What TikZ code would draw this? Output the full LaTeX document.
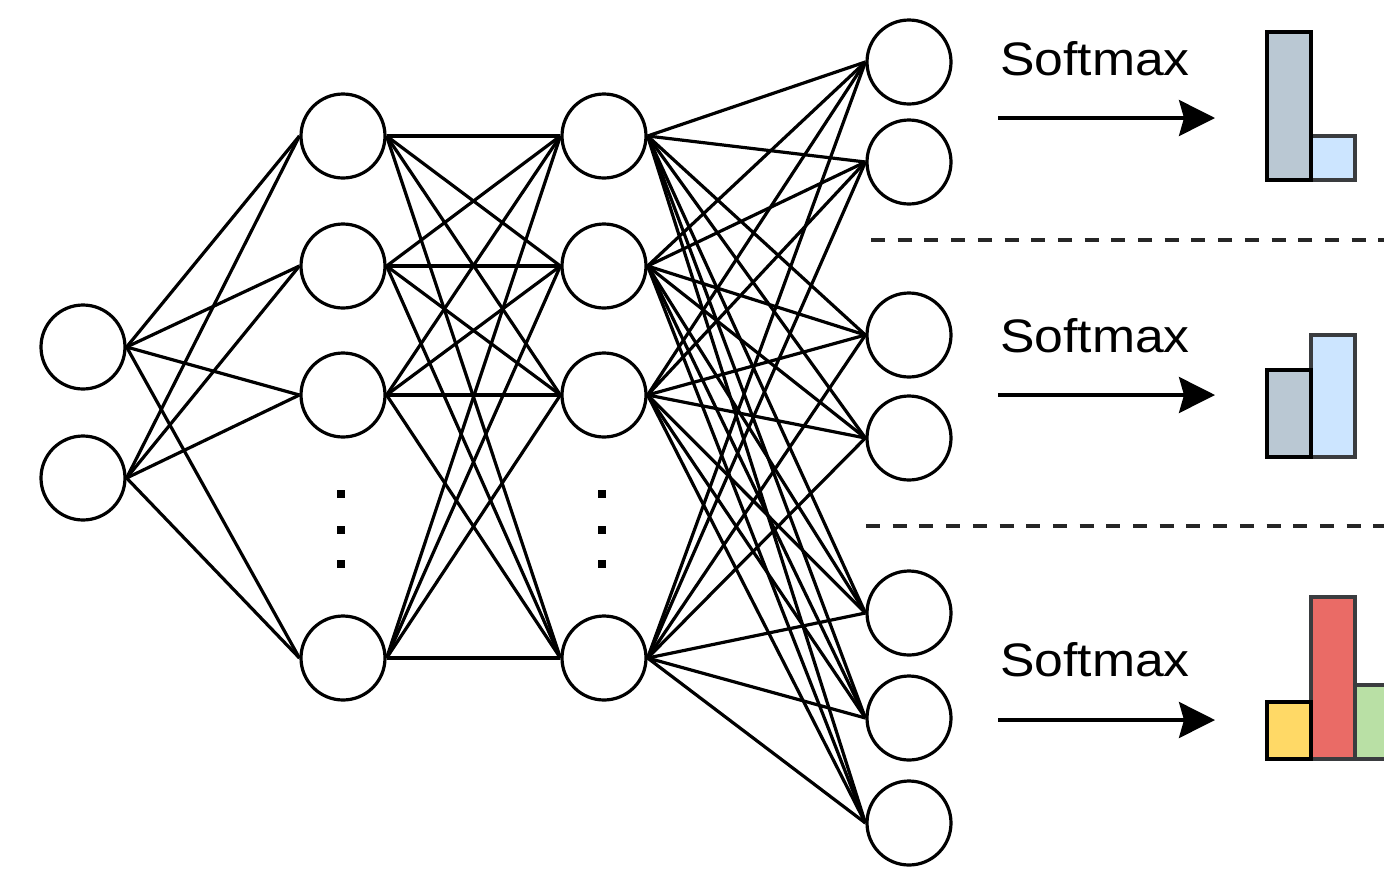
\documentclass[tikz,border=0pt]{standalone}
\usepackage{fontspec}
\setmainfont{Liberation Sans}
\usetikzlibrary{arrows.meta}
\definecolor{bgray}{HTML}{BAC8D3}
\definecolor{lblue}{HTML}{CCE5FF}
\definecolor{byellow}{HTML}{FFD966}
\definecolor{bred}{HTML}{EA6B66}
\definecolor{bgreen}{HTML}{B9E0A5}
\definecolor{bstroke}{HTML}{3A3C3F}
\begin{document}
\begin{tikzpicture}[x=1pt,y=-1pt,
  neuron/.style={circle,draw=black,line width=3.2pt,minimum size=84pt,inner sep=0pt,fill=white},
  conn/.style={line width=3.2pt,black},
  vdot/.style={rectangle,fill=black,minimum size=8pt,inner sep=0pt},
  sep/.style={line width=3.2pt,dash pattern=on 14pt off 12.7pt,black!85},
  smarrow/.style={line width=3.3pt,-{Stealth[length=36pt,width=36pt,inset=5pt]}},
  smlabel/.style={anchor=base west,inner sep=0pt,font=\fontsize{47}{50}\selectfont},
  barA/.style={line width=3.4pt,draw=black},
  barB/.style={line width=3.4pt,draw=bstroke}
]
\useasboundingbox (0,0) rectangle (1384,868);
% input layer
\node[neuron] (i1) at (83,347) {};
\node[neuron] (i2) at (83,478) {};
% hidden 1
\node[neuron] (a1) at (343,136) {};
\node[neuron] (a2) at (343,266) {};
\node[neuron] (a3) at (343,395) {};
\node[neuron] (a4) at (343,658) {};
% hidden 2
\node[neuron] (b1) at (604,136) {};
\node[neuron] (b2) at (604,266) {};
\node[neuron] (b3) at (604,395) {};
\node[neuron] (b4) at (604,658) {};
% outputs
\node[neuron] (o1) at (909,62) {};
\node[neuron] (o2) at (909,162) {};
\node[neuron] (o3) at (909,335) {};
\node[neuron] (o4) at (909,438) {};
\node[neuron] (o5) at (909,613) {};
\node[neuron] (o6) at (909,718) {};
\node[neuron] (o7) at (909,823) {};
% dots
\node[vdot] (d1) at (341,494) {};
\node[vdot] (d2) at (341,530) {};
\node[vdot] (d3) at (341,564) {};
\node[vdot] (e1) at (602,494) {};
\node[vdot] (e2) at (602,530) {};
\node[vdot] (e3) at (602,564) {};
% connections
\foreach \s in {i1,i2}{\foreach \t in {a1,a2,a3,a4}{\draw[conn] (\s.east) -- (\t.west);}}
\foreach \s in {a1,a2,a3,a4}{\foreach \t in {b1,b2,b3,b4}{\draw[conn] (\s.east) -- (\t.west);}}
\foreach \s in {b1,b2,b3,b4}{\foreach \t in {o1,o2,o3,o4,o5,o6,o7}{\draw[conn] (\s.east) -- (\t.west);}}
% separators
\coordinate (s1a) at (871,240);
\coordinate (s1b) at (1384,240);
\coordinate (s2a) at (866,526);
\coordinate (s2b) at (1384,526);
\draw[sep] (s1a) -- (s1b);
\draw[sep] (s2a) -- (s2b);
% softmax arrows
\coordinate (p1) at (998,118);
\coordinate (q1) at (1215,118);
\coordinate (p2) at (998,395);
\coordinate (q2) at (1215,395);
\coordinate (p3) at (998,720);
\coordinate (q3) at (1215,720);
\draw[smarrow] (p1) -- (q1);
\draw[smarrow] (p2) -- (q2);
\draw[smarrow] (p3) -- (q3);
\node[smlabel] (l1) at (1000,75) {\scalebox{1.1}[1]{Softmax}};
\node[smlabel] (l2) at (1000,352) {\scalebox{1.1}[1]{Softmax}};
\node[smlabel] (l3) at (1000,676) {\scalebox{1.1}[1]{Softmax}};
% bar chart 1
\draw[barB,fill=lblue] (1311,136) rectangle (1355,180);
\draw[barA,fill=bgray] (1267,32) rectangle (1311,180);
% bar chart 2
\draw[barB,fill=lblue] (1311,335) rectangle (1355,457);
\draw[barA,fill=bgray] (1267,370) rectangle (1311,457);
% bar chart 3
\draw[barB,fill=bgreen] (1355,685) rectangle (1400,759);
\draw[barB,fill=bred] (1311,597) rectangle (1355,759);
\draw[barA,fill=byellow] (1267,702) rectangle (1311,759);
\end{tikzpicture}
\end{document}
